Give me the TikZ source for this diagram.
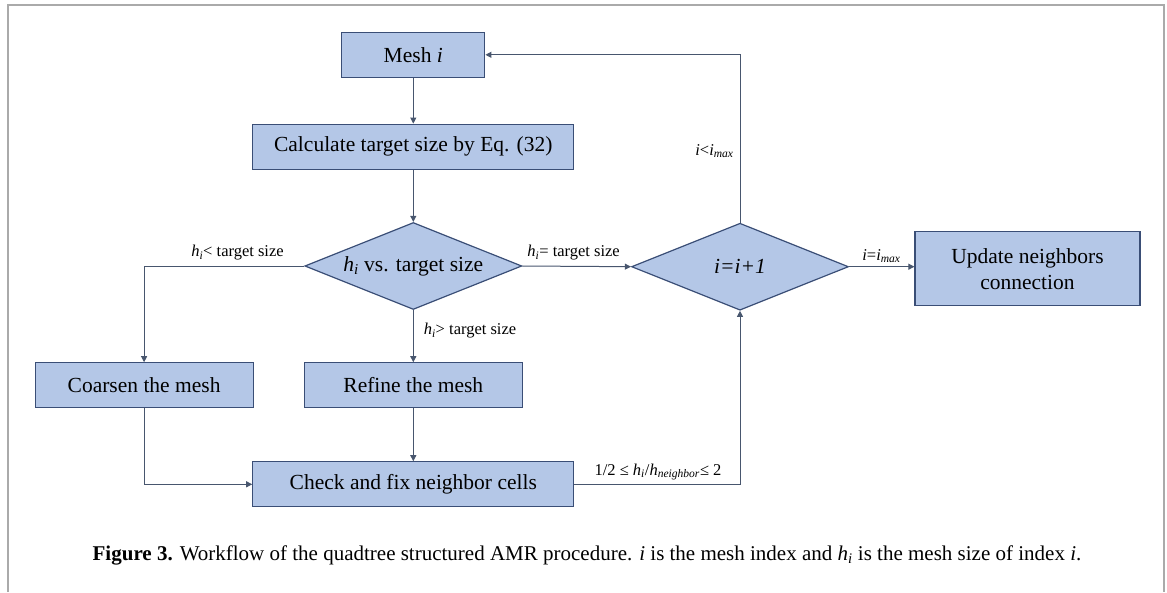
\documentclass[tikz,border=0pt]{standalone}
\usepackage{fontspec}
\setmainfont{Liberation Serif}
\usetikzlibrary{shapes.geometric,arrows.meta}
\definecolor{boxfill}{RGB}{180,199,231}
\definecolor{boxline}{RGB}{58,78,118}
\definecolor{wire}{RGB}{72,86,110}
\definecolor{framegray}{RGB}{170,170,170}
% italic letter with italic subscript, set in the text font
\newcommand{\ivar}[2]{\textit{#1}\textsubscript{\textit{#2}}}
\tikzset{
  procbox/.style={draw=boxline, line width=1.2pt, fill=boxfill, inner sep=0pt,
    font=\fontsize{21.5}{26}\selectfont, align=center},
  decision/.style={diamond, aspect=2.5, draw=boxline, line width=1.2pt, fill=boxfill, inner sep=0pt,
    minimum width=217pt, minimum height=87pt, font=\fontsize{21.5}{24}\selectfont},
  flow/.style={draw=wire, line width=1pt, -{Triangle[width=6pt,length=6pt]}},
  tag/.style={font=\fontsize{16.5}{19}\selectfont, inner sep=0pt},
}
\begin{document}
\begin{tikzpicture}[x=1pt,y=1pt]
  \useasboundingbox (0,0) rectangle (1167,-592);
  % page frame
  \draw[framegray, line width=1.2pt] (8,-592) -- (8,-5) -- (1164,-5) -- (1164,-592);

  % process boxes and decisions
  \node[procbox, minimum width=143pt, minimum height=45pt] (mesh) at (413.3,-54.8) {Mesh \textit{i}};
  \node[procbox, minimum width=321pt, minimum height=45pt] (calc) at (413.3,-146.7) {Calculate target size by Eq. (32)};
  \node[decision] (cmp) at (413.3,-266) {\ivar{h}{i} vs. target size};
  \node[decision] (inc) at (740,-266.7) {\textit{i=i+1}};
  \node[procbox, minimum width=218pt, minimum height=45pt] (coarse) at (144.1,-385.3) {Coarsen the mesh};
  \node[procbox, minimum width=218pt, minimum height=45pt] (refine) at (413.3,-385.3) {Refine the mesh};
  \node[procbox, minimum width=321pt, minimum height=45pt] (check) at (413.3,-484.3) {Check and fix neighbor cells};
  \node[procbox, minimum width=225pt, minimum height=74pt] (update) at (1027.5,-268.8) {Update neighbors\\connection};

  % connectors
  \draw[flow] (mesh) -- (calc);
  \draw[flow] (calc) -- (cmp);
  \draw[flow] (cmp.west) -| (coarse.north);
  \draw[flow] (cmp.south) -- (refine.north);
  \draw[flow] (cmp.east) -- (inc.west);
  \draw[flow] (inc.north) |- (mesh.east);
  \draw[flow] (inc.east) -- (inc.east -| update.west);
  \draw[flow] (coarse.south) |- (check.west);
  \draw[flow] (refine.south) -- (check.north);
  \draw[flow] (check.east) -| (inc.south);

  % branch labels
  \node[tag] (lt) at (237.5,-253) {\ivar{h}{i}< target size};
  \node[tag] (gt) at (470,-331) {\ivar{h}{i}> target size};
  \node[tag] (eq) at (573.6,-253) {\ivar{h}{i}= target size};
  \node[tag] (lo) at (714.5,-151) {\textit{i}<\ivar{i}{max}};
  \node[tag] (hi) at (881.5,-256) {\textit{i}=\ivar{i}{max}};
  \node[tag] (ratio) at (658,-472) {1/2 ≤ \ivar{h}{i}/\ivar{h}{neighbor}≤ 2};

  % caption
  \node[font=\fontsize{21}{25}\selectfont, inner sep=0pt] (cap) at (587,-555)
    {\textbf{Figure 3.} Workflow of the quadtree structured AMR procedure. \textit{i} is the mesh index and \ivar{h}{i} is the mesh size of index \textit{i}.};
\end{tikzpicture}
\end{document}
